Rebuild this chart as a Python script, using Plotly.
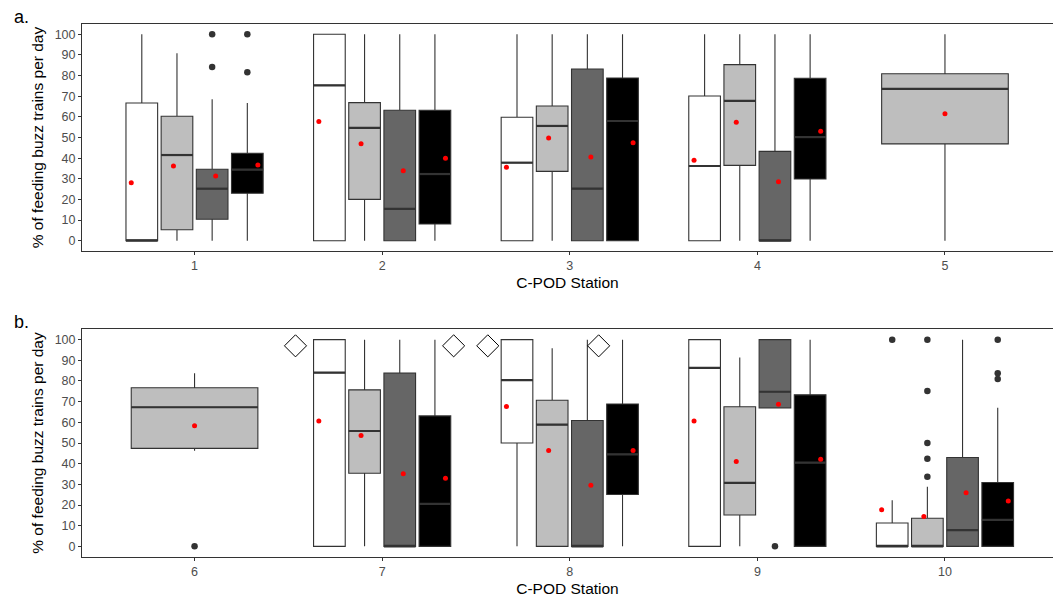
import plotly.graph_objects as go

# C-POD stations, two panels of five
STATIONS = [1, 2, 3, 4, 5, 6, 7, 8, 9, 10]
PANEL_OF_STATION = ["a", "a", "a", "a", "a", "b", "b", "b", "b", "b"]

# fill colours of the four groups drawn side by side at each station
GROUP_FILLS = ["#FFFFFF", "#BEBEBE", "#666666", "#000000"]

# box statistics per station, one value per group (None = group absent)
LOWER = [
    [0, 0, 0, 0], [0, 0, 0, 0], [0, 0, 0, 0], [0, 0, 0, 0], [None, 0, None, None],
    [None, 46.3, None, None], [0, 0, 0, 0], [0, 0, 0, 0], [0, 0, 67.0, 0], [0, 0, 0, 0],
]
Q1 = [
    [0, 5.3, 10.4, 23.0], [0, 20.0, 0, 8.1], [0, 33.6, 0, 0], [0, 36.5, 0, 29.9], [None, 46.9, None, None],
    [None, 47.4, None, None], [0, 35.4, 0, 0], [50.0, 0, 0, 25.1], [0, 15.2, 67.0, 0], [0, 0, 0, 0],
]
MEDIAN = [
    [0, 41.5, 25.2, 34.4], [75.3, 54.7, 15.4, 32.3], [37.8, 55.6, 25.2, 58.0], [36.2, 67.7, 0, 50.2], [None, 73.6, None, None],
    [None, 67.3, None, None], [84.0, 55.8, 0, 20.6], [80.4, 58.9, 0, 44.5], [86.3, 30.7, 74.8, 40.5], [0, 0, 7.9, 12.8],
]
Q3 = [
    [66.7, 60.3, 34.6, 42.3], [100, 66.9, 63.2, 63.2], [59.8, 65.3, 83.2, 78.8], [70.1, 85.3, 43.3, 78.7], [None, 80.9, None, None],
    [None, 76.7, None, None], [100, 75.7, 83.8, 63.1], [100, 70.7, 60.9, 68.9], [100, 67.5, 100, 73.3], [11.3, 13.6, 43.0, 30.9],
]
UPPER = [
    [100, 90.8, 68.5, 66.7], [100, 100, 100, 100], [100, 100, 100, 100], [100, 100, 100, 100], [None, 100, None, None],
    [None, 83.8, None, None], [100, 100, 100, 100], [100, 95.8, 100, 100], [100, 91.4, 100, 100], [22.3, 28.8, 100, 67.0],
]
MEAN = [
    [28.1, 36.2, 31.3, 36.7], [57.8, 47.0, 33.9, 39.9], [35.6, 49.8, 40.6, 47.5], [39.0, 57.4, 28.6, 53.0], [None, 61.5, None, None],
    [None, 58.4, None, None], [60.7, 53.6, 35.1, 32.9], [67.7, 46.4, 29.6, 46.4], [60.7, 41.1, 68.8, 42.1], [17.7, 14.4, 25.9, 22.0],
]

# outlying days: station, group index, value
OUTLIER_STATION = [1, 1, 1, 1, 6, 9, 10, 10, 10, 10, 10, 10, 10, 10, 10]
OUTLIER_GROUP = [2, 2, 3, 3, 1, 2, 0, 1, 1, 1, 1, 1, 3, 3, 3]
OUTLIER_VALUE = [84.2, 100, 81.6, 100, 0, 0, 100, 33.7, 42.4, 50.0, 75.1, 100, 80.9, 83.8, 100]

# open diamond markers above panel b
DIAMOND_X = [6.538, 7.381, 7.563, 8.154]
DIAMOND_Y = [97, 97, 97, 97]

Y_TICKS = [0, 10, 20, 30, 40, 50, 60, 70, 80, 90, 100]

W, H = 1053, 601
LINE = "#333333"
FONT = "Liberation Sans, Arial, sans-serif"

# dodge geometry (category units)
DODGE_BOX = 0.75
DODGE_MEAN = 0.9
PAD = 0.1


def axes_for(panel):
    return ("x", "y") if panel == "a" else ("x2", "y2")


fig = go.Figure()

median_x = {"a": [], "b": []}
median_y = {"a": [], "b": []}
mean_x = {"a": [], "b": []}
mean_y = {"a": [], "b": []}
box_centre = {}

for si, st in enumerate(STATIONS):
    panel = PANEL_OF_STATION[si]
    xa, ya = axes_for(panel)
    present = [g for g in range(4) if Q1[si][g] is not None]
    n = len(present)
    slot = DODGE_BOX / n
    bw = slot * (1 - PAD)
    mslot = DODGE_MEAN / n
    for k, g in enumerate(present):
        pos = st - DODGE_BOX / 2 + slot * (k + 0.5)
        mpos = st - DODGE_MEAN / 2 + mslot * (k + 0.5)
        box_centre[(st, g)] = pos
        fig.add_trace(go.Box(
            x=[pos], q1=[Q1[si][g]], median=[MEDIAN[si][g]], q3=[Q3[si][g]],
            lowerfence=[LOWER[si][g]], upperfence=[UPPER[si][g]],
            width=bw, fillcolor=GROUP_FILLS[g], line=dict(color=LINE, width=1.1),
            whiskerwidth=0, boxpoints=False, xaxis=xa, yaxis=ya,
            showlegend=False, hoverinfo="skip",
        ))
        median_x[panel] += [pos - bw / 2, pos + bw / 2, None]
        median_y[panel] += [MEDIAN[si][g], MEDIAN[si][g], None]
        mean_x[panel].append(mpos)
        mean_y[panel].append(MEAN[si][g])

out_x = {"a": [], "b": []}
out_y = {"a": [], "b": []}
for st, g, v in zip(OUTLIER_STATION, OUTLIER_GROUP, OUTLIER_VALUE):
    panel = PANEL_OF_STATION[STATIONS.index(st)]
    out_x[panel].append(box_centre[(st, g)])
    out_y[panel].append(v)

for panel in ("a", "b"):
    xa, ya = axes_for(panel)
    # thicker median bar, as in ggplot boxplots
    fig.add_trace(go.Scatter(
        x=median_x[panel], y=median_y[panel], mode="lines",
        line=dict(color=LINE, width=2.2), xaxis=xa, yaxis=ya,
        showlegend=False, hoverinfo="skip", connectgaps=False,
    ))
    fig.add_trace(go.Scatter(
        x=out_x[panel], y=out_y[panel], mode="markers",
        marker=dict(color=LINE, size=6.5), xaxis=xa, yaxis=ya,
        showlegend=False, hoverinfo="skip",
    ))
    fig.add_trace(go.Scatter(
        x=mean_x[panel], y=mean_y[panel], mode="markers",
        marker=dict(color="#FF0000", size=5), xaxis=xa, yaxis=ya,
        showlegend=False, hoverinfo="skip",
    ))

fig.add_trace(go.Scatter(
    x=DIAMOND_X, y=DIAMOND_Y, mode="markers",
    marker=dict(symbol="diamond-open", size=17, color="#000000", line=dict(width=1)),
    xaxis="x2", yaxis="y2", showlegend=False, hoverinfo="skip",
))

px_per_unit = 187.6
left_px = 82
plot_w = W - left_px
span = plot_w / px_per_unit


def y_domain(top_px, bottom_px):
    return [1 - bottom_px / H, 1 - top_px / H]


common_x = dict(
    showline=True, mirror=True, linecolor=LINE, linewidth=1,
    ticks="outside", ticklen=3, tickcolor=LINE, tickwidth=1,
    tickfont=dict(size=12.5, color="#4D4D4D", family=FONT),
    showgrid=False, zeroline=False, automargin=False,
    title=dict(text="C-POD Station", font=dict(size=15.5, color="#000000", family=FONT), standoff=5),
)
common_y = dict(
    showline=True, mirror=False, linecolor=LINE, linewidth=1,
    ticks="outside", ticklen=3, tickcolor=LINE, tickwidth=1,
    tickfont=dict(size=12.5, color="#4D4D4D", family=FONT),
    showgrid=False, zeroline=False, automargin=False,
    range=[-5, 105], tickvals=Y_TICKS,
    title=dict(text="% of feeding buzz trains per day", font=dict(size=15.5, color="#000000", family=FONT), standoff=7),
)

fig.update_layout(
    width=W, height=H,
    margin=dict(l=left_px, r=0, t=0, b=0),
    paper_bgcolor="white", plot_bgcolor="white",
    boxmode="overlay", showlegend=False,
    font=dict(family=FONT),
    xaxis=dict(common_x, domain=[0, 1], anchor="y", range=[0.4, 0.4 + span],
               tickvals=STATIONS[:5], ticktext=[str(s) for s in STATIONS[:5]]),
    yaxis=dict(common_y, domain=y_domain(24, 251), anchor="x"),
    xaxis2=dict(common_x, domain=[0, 1], anchor="y2", range=[5.4, 5.4 + span],
                tickvals=STATIONS[5:], ticktext=[str(s) for s in STATIONS[5:]]),
    yaxis2=dict(common_y, domain=y_domain(329.3, 556.7), anchor="x2"),
    annotations=[
        dict(text="a.", x=(12 - left_px) / plot_w, y=1 - 17 / H, xref="paper", yref="paper",
             xanchor="left", yanchor="middle", showarrow=False,
             font=dict(size=18, color="#000000", family=FONT)),
        dict(text="b.", x=(12 - left_px) / plot_w, y=1 - 322 / H, xref="paper", yref="paper",
             xanchor="left", yanchor="middle", showarrow=False,
             font=dict(size=18, color="#000000", family=FONT)),
    ],
)

fig.write_html("out.html")
